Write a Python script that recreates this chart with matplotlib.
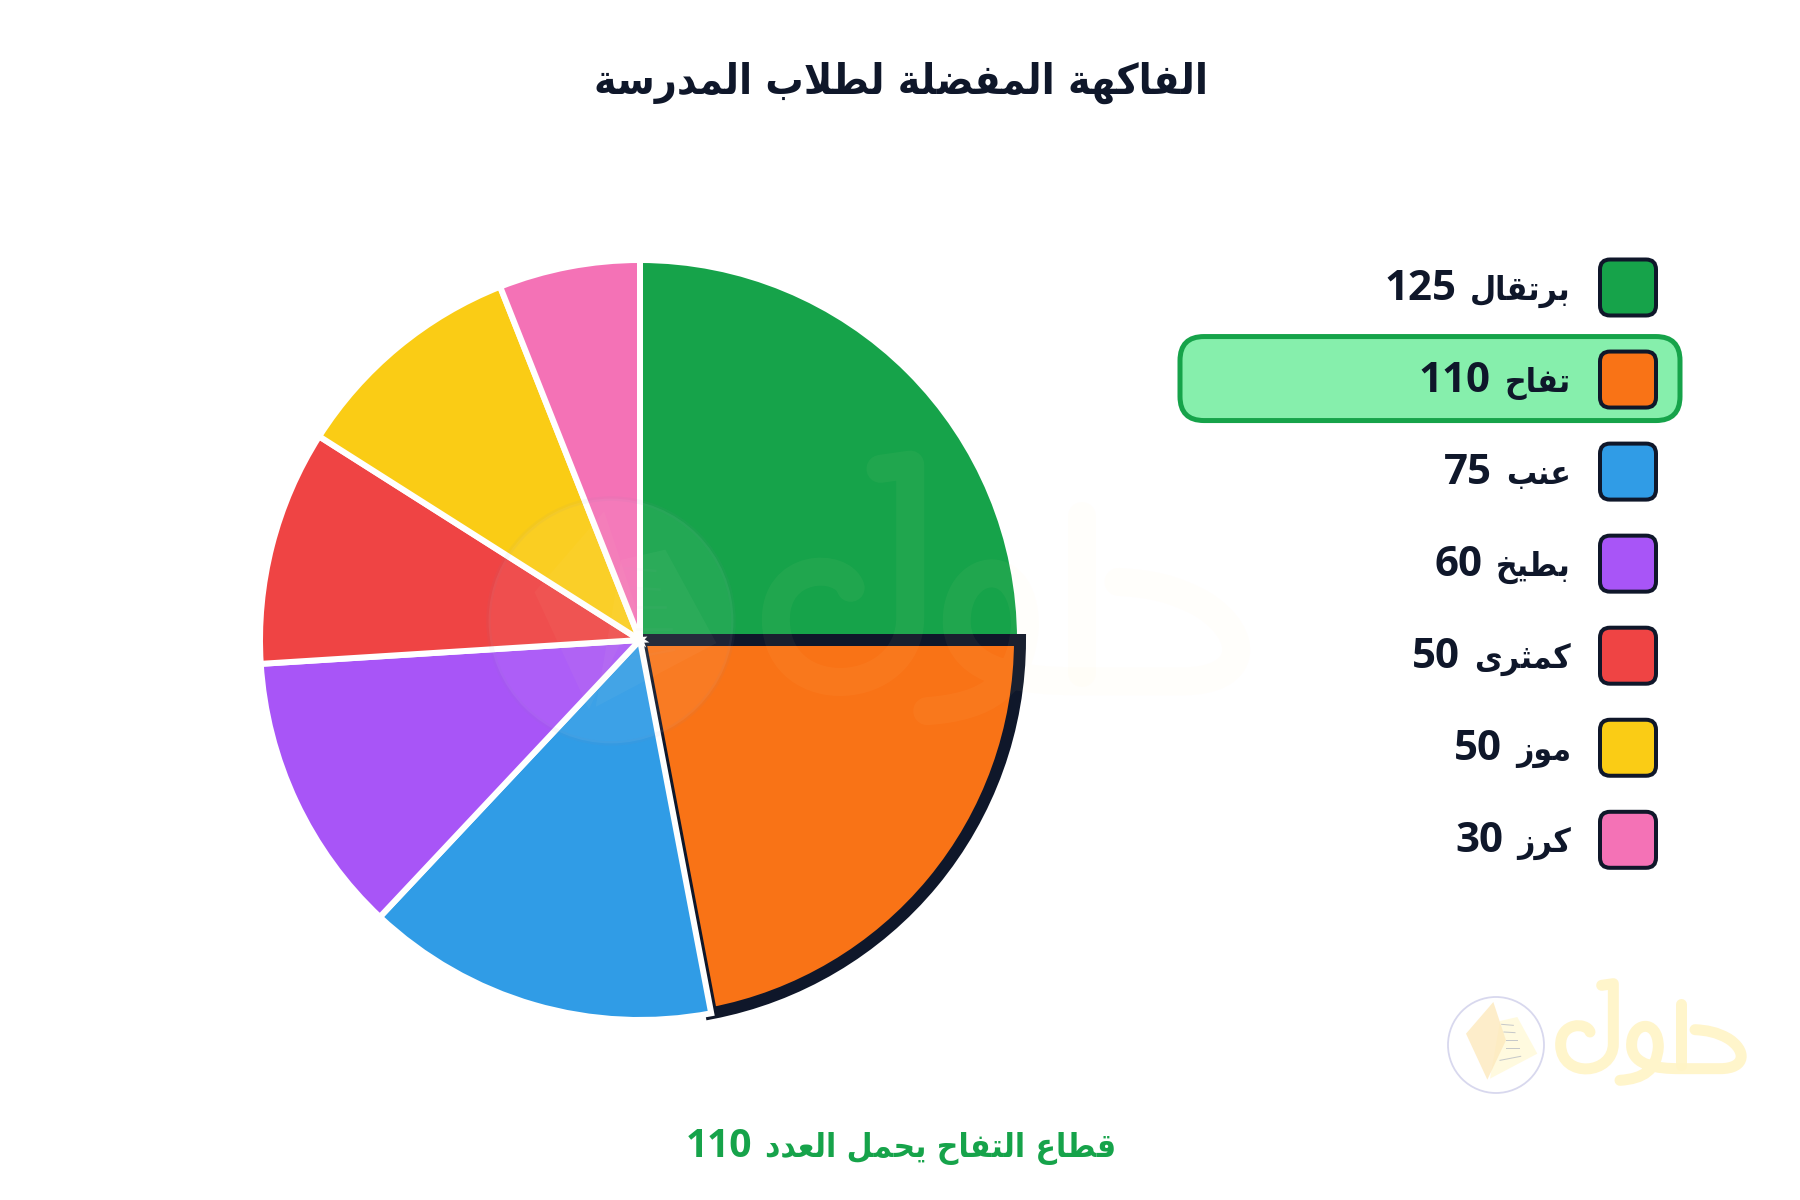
import matplotlib
matplotlib.use("Agg")
import matplotlib.pyplot as plt
from matplotlib.patches import FancyBboxPatch, Circle, Polygon, PathPatch
from matplotlib.path import Path

# ---------- data ----------
title = "الفاكهة المفضلة لطلاب المدرسة"
caption = "قطاع التفاح يحمل العدد"
categories = ["برتقال", "تفاح", "عنب", "بطيخ", "كمثرى", "موز", "كرز"]
values = [125, 110, 75, 60, 50, 50, 30]
colors = ["#16a34a", "#f97316", "#309ce6", "#a855f7", "#ef4444", "#facc15", "#f472b6"]
highlight = 1
DARK = "#0f172a"
GREEN = "#16a34a"

# ---------- Arabic shaping (matplotlib has no shaper) ----------
FORMS = {"ا": (0xFE8D, 2), "ب": (0xFE8F, 4), "ة": (0xFE93, 2), "ت": (0xFE95, 4), "ث": (0xFE99, 4),
         "ح": (0xFEA1, 4), "خ": (0xFEA5, 4), "د": (0xFEA9, 2), "ر": (0xFEAD, 2), "ز": (0xFEAF, 2),
         "س": (0xFEB1, 4), "ض": (0xFEBD, 4), "ط": (0xFEC1, 4), "ع": (0xFEC9, 4), "ف": (0xFED1, 4),
         "ق": (0xFED5, 4), "ك": (0xFED9, 4), "ل": (0xFEDD, 4), "م": (0xFEE1, 4), "ن": (0xFEE5, 4),
         "ه": (0xFEE9, 4), "و": (0xFEED, 2), "ى": (0xFEEF, 2), "ي": (0xFEF1, 4)}


def shape(text):
    words = []
    for word in text.split(" "):
        out = []
        i = 0
        while i < len(word):
            ch = word[i]
            prev_joins = i > 0 and FORMS[word[i - 1]][1] == 4
            if ch == "ل" and i + 1 < len(word) and word[i + 1] == "ا":
                out.append(chr(0xFEFC if prev_joins else 0xFEFB))
                i += 2
                continue
            base, n = FORMS[ch]
            next_exists = i + 1 < len(word)
            if n == 2:
                out.append(chr(base + (1 if prev_joins else 0)))
            elif prev_joins and next_exists:
                out.append(chr(base + 3))
            elif prev_joins:
                out.append(chr(base + 1))
            elif next_exists:
                out.append(chr(base + 2))
            else:
                out.append(chr(base))
            i += 1
        words.append("".join(reversed(out)))
    return " ".join(reversed(words))


# ---------- figure ----------
W, H = 1800, 1200
PX = 72 / 100  # one pixel in points
fig = plt.figure(figsize=(W / 100, H / 100), dpi=100, facecolor="white")
ax = fig.add_axes([0, 0, 1, 1])


def Y(py):
    return H - py


wedges, _ = ax.pie(values, colors=colors, startangle=90, counterclock=False,
                   radius=380, center=(640, Y(640)),
                   wedgeprops=dict(edgecolor="white", linewidth=6 * PX))
for i, w in enumerate(wedges):
    w.set_zorder(2 + i * 0.01)
    w.set_joinstyle("miter")
    if i == highlight:
        w.set_edgecolor(DARK)
        w.set_linewidth(12 * PX)

ax.set_xlim(0, W)
ax.set_ylim(0, H)
ax.set_aspect("equal")
ax.axis("off")

renderer = fig.canvas.get_renderer()
AR = dict(family="DejaVu Sans", fontweight="bold", stretch="condensed")
NUM = dict(family="Open Sans", fontweight="bold")


def label(right, base, arabic, number, ar_px, num_px, gap, color, z, center=False):
    """Draw '<number> <arabic>' in visual order, Arabic on the right."""
    a = ax.text(right, Y(base), shape(arabic), ha="right", va="baseline", fontsize=ar_px * PX,
                color=color, zorder=z, **AR)
    aw = a.get_window_extent(renderer).width
    n = ax.text(right - aw - gap, Y(base), str(number), ha="right", va="baseline", fontsize=num_px * PX,
                color=color, zorder=z, **NUM)
    if center:
        nw = n.get_window_extent(renderer).width
        shift = (aw + gap + nw) / 2
        a.set_x(right + shift)
        n.set_x(right + shift - aw - gap)


ax.text(901, Y(94), shape(title), ha="center", va="baseline", fontsize=42.5 * PX, color=DARK, **AR)
label(901, 1157, caption, values[highlight], 33.3, 39, 13, GREEN, 5, center=True)

# ---------- legend ----------
ROW0, STEP = 287.5, 92.05
for i, (name, val, col) in enumerate(zip(categories, values, colors)):
    cy = ROW0 + i * STEP
    if i == highlight:
        ax.add_patch(FancyBboxPatch((1186, Y(cy + 35)), 488, 72,
                                    boxstyle="round,pad=6,rounding_size=24",
                                    fc="#86efac", ec=GREEN, lw=5 * PX, zorder=3))
    ax.add_patch(FancyBboxPatch((1607, Y(cy + 21)), 42, 42,
                                boxstyle="round,pad=7,rounding_size=10",
                                fc=col, ec=DARK, lw=4 * PX, zorder=4))
    label(1579 - 8, cy + 12, name, val, 33.5, 42, 14, DARK, 5)

# ---------- watermark logo ----------
STROKES = [
    [(Path.MOVETO, (570, 245)), (Path.CURVE4, (560, 215)), (Path.CURVE4, (480, 215)), (Path.CURVE4, (482, 285)),
     (Path.CURVE4, (485, 385)), (Path.CURVE4, (640, 375)), (Path.CURVE4, (640, 280)), (Path.LINETO, (640, 100)),
     (Path.LINETO, (605, 105))],
    [(Path.MOVETO, (660, 390)), (Path.CURVE4, (730, 385)), (Path.CURVE4, (770, 360)), (Path.CURVE4, (775, 290)),
     (Path.CURVE4, (775, 200)), (Path.CURVE4, (690, 215)), (Path.CURVE4, (695, 290)),
     (Path.CURVE4, (700, 345)), (Path.CURVE4, (770, 355)), (Path.CURVE4, (840, 355)),
     (Path.LINETO, (960, 355)), (Path.CURVE4, (1040, 355)), (Path.CURVE4, (1040, 300)), (Path.CURVE4, (985, 265)),
     (Path.CURVE4, (950, 245)), (Path.CURVE4, (920, 240)), (Path.CURVE4, (885, 238))],
    [(Path.MOVETO, (842, 160)), (Path.LINETO, (842, 345))],
]
BOOK_COVER = [(198, 250), (280, 155), (318, 270), (262, 388)]
BOOK_PAGE = [(300, 212), (352, 200), (412, 310), (270, 385)]
BOOK_LINES = [[(305, 222), (340, 225)], [(312, 245), (345, 247)], [(318, 268), (352, 268)],
              [(318, 293), (358, 293)], [(300, 330), (362, 318)]]


def logo(cx, cy, s, ring, fill, a_text, a_book, a_fill, z):
    def T(p):
        return (cx + (p[0] - 288) / 3 * s, Y(cy + (p[1] - 284) / 3 * s))

    ax.add_patch(Circle((cx, Y(cy)), 48 * s, fc="white", ec=ring, lw=1.8 * s * PX, alpha=a_fill, zorder=z))
    ax.add_patch(Polygon([T(p) for p in BOOK_PAGE], fc="#fff9d8", ec="none", alpha=a_book, zorder=z))
    ax.add_patch(Polygon([T(p) for p in BOOK_COVER], fc="#fde9bd", ec="none", alpha=a_book, zorder=z))
    for ln in BOOK_LINES:
        ax.plot(*zip(*[T(p) for p in ln]), color="#b8bcc4", lw=1 * s * PX, alpha=a_book, zorder=z)
    for st in STROKES:
        codes = [c for c, _ in st]
        verts = [T(p) for _, p in st]
        ax.add_patch(PathPatch(Path(verts, codes), fc="none", ec=fill, lw=11 * s * PX,
                               capstyle="round", joinstyle="round", alpha=a_text, zorder=z))


logo(1496, 1045, 1.0, "#d8d8ee", "#fff4c6", 0.9, 0.8, 1.0, 1.5)
logo(611, 621, 2.55, "#8888aa", "#ffefb0", 0.045, 0.04, 0.06, 3)

fig.savefig("out.png", dpi=100, facecolor="white")
